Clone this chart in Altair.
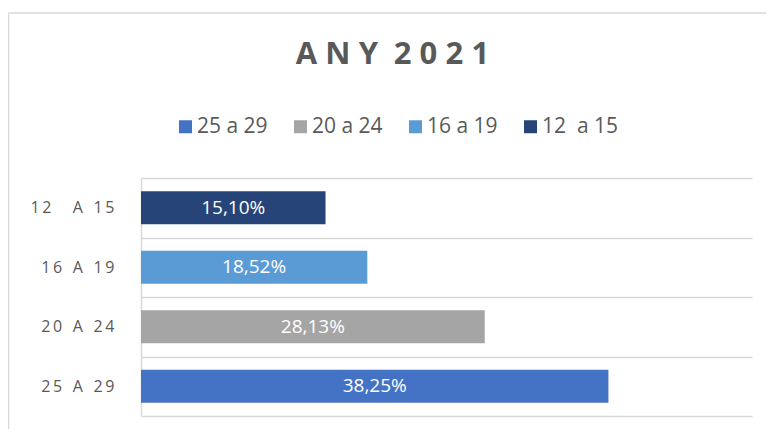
import altair as alt
import pandas as pd

# ---- data ----
categories = ["12  A 15", "16 A 19", "20 A 24", "25 A 29"]        # y-axis labels (top to bottom)
legend_labels = ["12  a 15", "16 a 19", "20 a 24", "25 a 29"]     # legend labels
values = [15.10, 18.52, 28.13, 38.25]                              # percent
colors = ["#264478", "#5B9BD5", "#A5A5A5", "#4472C4"]
legend_order = ["25 a 29", "20 a 24", "16 a 19", "12  a 15"]
title_text = "ANY 2021"

HAIR, THIN, EN, NBSP = "\u200a", "\u2009", "\u2002", "\u00a0"


def spaced_axis(s):
    # emulate letter spacing: thin space between characters, wider gap between words
    out = []
    for word in s.split(" "):
        out.append(THIN.join(word) if word else "")
    return (EN + THIN).join(out)


def keep_spaces(s):
    return s.replace("  ", NBSP + " ")


def spaced_title(s):
    return EN.join((THIN + HAIR).join(w) for w in s.split(" "))


cat_disp = [spaced_axis(c) for c in categories]
leg_disp = [keep_spaces(l) for l in legend_labels]
leg_order_disp = [keep_spaces(l) for l in legend_order]
color_by_label = dict(zip(leg_disp, colors))

df = pd.DataFrame({"cat": cat_disp, "legend": leg_disp, "value": values})

GREY = "#595959"
LINE = "#D9D9D9"
W, H = 611, 238

y_enc = alt.Y(
    "cat:N",
    sort=cat_disp,
    scale=alt.Scale(paddingInner=0, paddingOuter=0),
    axis=alt.Axis(
        title=None,
        ticks=False,
        domain=True,
        domainColor=LINE,
        domainWidth=1.5,
        grid=True,
        gridColor=LINE,
        gridWidth=1.5,
        tickBand="extent",
        labelFont="Open Sans",
        labelFontSize=16,
        labelColor=GREY,
        labelPadding=27,
    ),
)

base = alt.Chart(df)

bars = base.mark_bar(size=33).encode(
    x=alt.X("value:Q", scale=alt.Scale(domain=[0, 50]), axis=None),
    y=y_enc,
    color=alt.Color(
        "legend:N",
        scale=alt.Scale(domain=leg_order_disp, range=[color_by_label[l] for l in leg_order_disp]),
        legend=alt.Legend(
            title=None,
            orient="none",
            legendX=34,
            legendY=-62,
            direction="horizontal",
            columns=4,
            symbolType="square",
            symbolSize=169,
            symbolStrokeWidth=0,
            labelFont="Open Sans",
            labelFontSize=21,
            labelColor=GREY,
            labelOffset=1,
            columnPadding=22,
            padding=0,
        ),
    ),
)

labels = base.transform_calculate(
    mid="datum.value / 2",
    lab="replace(format(datum.value, '.2f'), '.', ',') + '%'",
).mark_text(color="white", font="Open Sans", fontSize=19).encode(
    x=alt.X("mid:Q"),
    y=alt.Y("cat:N", sort=cat_disp),
    text="lab:N",
)

one = pd.DataFrame({"t": [spaced_title(title_text)]})

title = alt.Chart(one).mark_text(
    font="Open Sans", fontSize=31, fontWeight="bold", color=GREY,
    align="center", baseline="alphabetic",
).encode(x=alt.value(251.5), y=alt.value(-114), text="t:N")

frame_left = alt.Chart(one).mark_rule(color=LINE, strokeWidth=1.5).encode(
    x=alt.value(-132.5), y=alt.value(-165), y2=alt.value(300)
)
frame_top = alt.Chart(one).mark_rule(color=LINE, strokeWidth=1.5).encode(
    x=alt.value(-132.5), x2=alt.value(700), y=alt.value(-165)
)

chart = (
    alt.layer(frame_left, frame_top, title, bars, labels)
    .properties(
        width=W,
        height=H,
        autosize=alt.AutoSizeParams(type="none"),
        padding={"left": 133, "top": 170, "right": 14, "bottom": 13},
        background="white",
    )
    .configure_view(stroke=None)
)

chart.save("out.html", embed_options={"renderer": "svg", "actions": False})
